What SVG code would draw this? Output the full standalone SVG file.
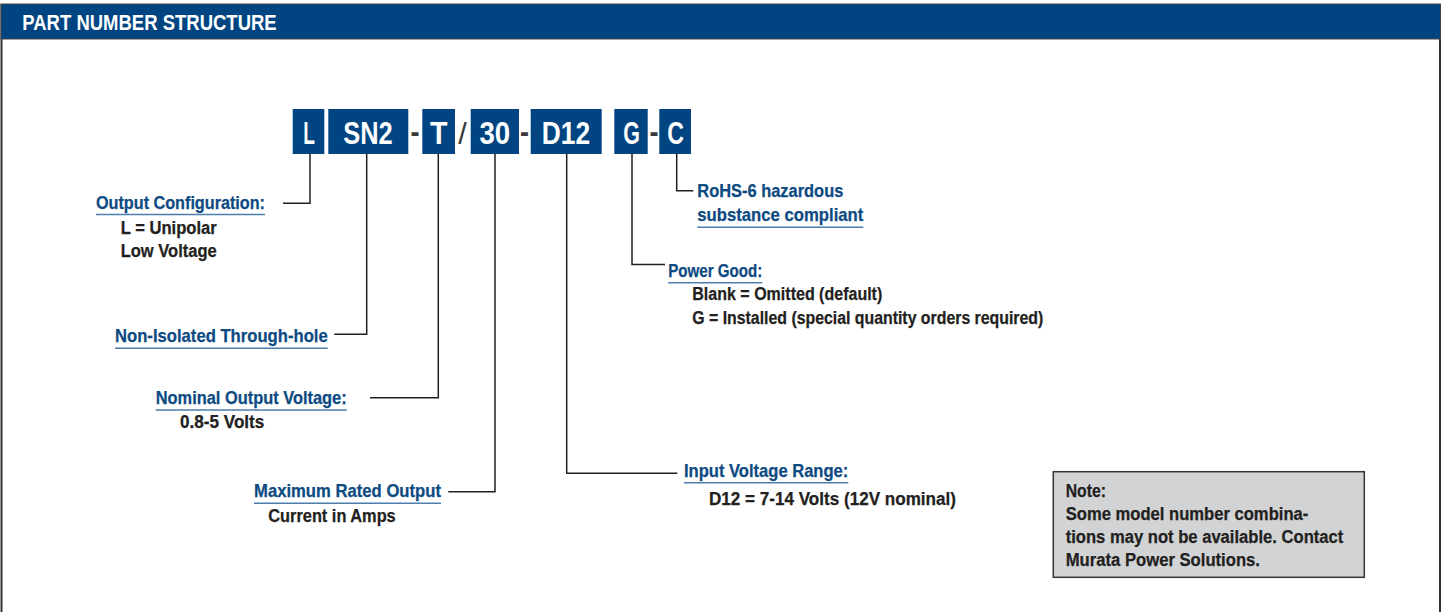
<svg xmlns="http://www.w3.org/2000/svg" width="1442" height="612" viewBox="0 0 1442 612">
<style>
text{font-family:'Liberation Sans Narrow','Liberation Sans',Arial,sans-serif;font-weight:bold}
.hd{fill:#ffffff;font-size:22.5px}
.bx{fill:#004581}
.bt{fill:#ffffff;font-size:32px;text-anchor:middle}
.sep{fill:#3a3a3a;font-size:32px;text-anchor:middle}
.sl{fill:#3a3a3a;font-size:30px;text-anchor:middle;font-weight:normal}
.lb{fill:#0d4a82;font-size:18.5px;stroke:#0d4a82;stroke-width:0.25}
.tx{fill:#231f20;font-size:18px;stroke:#231f20;stroke-width:0.25}
.ul{stroke:#4d7dad;stroke-width:1.5;fill:none}
.cn{stroke:#231f20;stroke-width:1.5;fill:none}
</style>
<rect x="0" y="0" width="1442" height="612" fill="#ffffff"/>
<g id="frame">
<line x1="1.5" y1="4" x2="1.5" y2="612" stroke="#333" stroke-width="2"/>
<line x1="1440" y1="4" x2="1440" y2="612" stroke="#333" stroke-width="2"/>
<rect x="1" y="4" width="1439.5" height="35" fill="#004581" stroke="#444" stroke-width="1"/>
<text class="hd" x="22.3" y="30" textLength="254.4" lengthAdjust="spacingAndGlyphs">PART NUMBER STRUCTURE</text>
</g>
<g id="code">
<g id="box-L"><rect class="bx" x="292.7" y="109" width="31.6" height="45"/><text class="bt" x="309.2" y="144" textLength="11.7" lengthAdjust="spacingAndGlyphs">L</text></g>
<g id="box-SN2"><rect class="bx" x="328.3" y="109" width="80" height="45"/><text class="bt" x="368" y="144" textLength="49.4" lengthAdjust="spacingAndGlyphs">SN2</text></g>
<text class="sep" x="415" y="142" textLength="9" lengthAdjust="spacingAndGlyphs">-</text>
<g id="box-T"><rect class="bx" x="422.3" y="109" width="32.7" height="45"/><text class="bt" x="438.7" y="144" textLength="17.5" lengthAdjust="spacingAndGlyphs">T</text></g>
<text class="sl" x="462.5" y="144" textLength="8.5" lengthAdjust="spacingAndGlyphs">/</text>
<g id="box-30"><rect class="bx" x="470.7" y="109" width="48.3" height="45"/><text class="bt" x="494.8" y="144" textLength="30.7" lengthAdjust="spacingAndGlyphs">30</text></g>
<text class="sep" x="524.5" y="142" textLength="9" lengthAdjust="spacingAndGlyphs">-</text>
<g id="box-D12"><rect class="bx" x="530.7" y="109" width="71" height="45"/><text class="bt" x="566" y="144" textLength="48.3" lengthAdjust="spacingAndGlyphs">D12</text></g>
<g id="box-G"><rect class="bx" x="614.3" y="109" width="33.4" height="45"/><text class="bt" x="631.5" y="144" textLength="16.7" lengthAdjust="spacingAndGlyphs">G</text></g>
<text class="sep" x="654" y="142" textLength="9" lengthAdjust="spacingAndGlyphs">-</text>
<g id="box-C"><rect class="bx" x="659.3" y="109" width="31.7" height="45"/><text class="bt" x="675.6" y="144" textLength="16.7" lengthAdjust="spacingAndGlyphs">C</text></g>
</g>
<g id="connectors">
<path class="cn" d="M310 154 V203.3 H283"/>
<path class="cn" d="M366.7 154 V334.3 H334.3"/>
<path class="cn" d="M438.3 154 V397.7 H370"/>
<path class="cn" d="M495 154 V491.7 H448.3"/>
<path class="cn" d="M566.7 154 V473.3 H677.3"/>
<path class="cn" d="M632 154 V264.5 H665"/>
<path class="cn" d="M676.7 154 V190.7 H693.3"/>
</g>
<g id="output-config">
<text class="lb" x="96" y="209.3" textLength="169" lengthAdjust="spacingAndGlyphs">Output Configuration:</text>
<line class="ul" x1="96" y1="214.5" x2="265" y2="214.5"/>
<text class="tx" x="120.7" y="234" textLength="96" lengthAdjust="spacingAndGlyphs">L = Unipolar</text>
<text class="tx" x="120.7" y="257.3" textLength="96" lengthAdjust="spacingAndGlyphs">Low Voltage</text>
</g>
<g id="non-isolated">
<text class="lb" x="115" y="341.7" textLength="212.7" lengthAdjust="spacingAndGlyphs">Non-Isolated Through-hole</text>
<line class="ul" x1="115" y1="348.3" x2="327.7" y2="348.3"/>
</g>
<g id="nominal-voltage">
<text class="lb" x="155.7" y="404" textLength="191" lengthAdjust="spacingAndGlyphs">Nominal Output Voltage:</text>
<line class="ul" x1="155.7" y1="410" x2="346.7" y2="410"/>
<text class="tx" x="180" y="428.3" textLength="84.3" lengthAdjust="spacingAndGlyphs">0.8-5 Volts</text>
</g>
<g id="max-output">
<text class="lb" x="254" y="497.3" textLength="187" lengthAdjust="spacingAndGlyphs">Maximum Rated Output</text>
<line class="ul" x1="254" y1="503.3" x2="441" y2="503.3"/>
<text class="tx" x="268.3" y="521.7" textLength="127.4" lengthAdjust="spacingAndGlyphs">Current in Amps</text>
</g>
<g id="rohs">
<text class="lb" x="697.3" y="196.7" textLength="146" lengthAdjust="spacingAndGlyphs">RoHS-6 hazardous</text>
<text class="lb" x="697.3" y="221" textLength="166" lengthAdjust="spacingAndGlyphs">substance compliant</text>
<line class="ul" x1="697.3" y1="227.3" x2="863.3" y2="227.3"/>
</g>
<g id="power-good">
<text class="lb" x="668.3" y="276.7" textLength="94" lengthAdjust="spacingAndGlyphs">Power Good:</text>
<line class="ul" x1="668.3" y1="282.7" x2="762.3" y2="282.7"/>
<text class="tx" x="692.3" y="300" textLength="190" lengthAdjust="spacingAndGlyphs">Blank = Omitted (default)</text>
<text class="tx" x="692.3" y="324" textLength="351" lengthAdjust="spacingAndGlyphs">G = Installed (special quantity orders required)</text>
</g>
<g id="input-voltage">
<text class="lb" x="684" y="476.7" textLength="164.3" lengthAdjust="spacingAndGlyphs">Input Voltage Range:</text>
<line class="ul" x1="684" y1="482.7" x2="848.3" y2="482.7"/>
<text class="tx" x="709" y="505" textLength="247" lengthAdjust="spacingAndGlyphs">D12 = 7-14 Volts (12V nominal)</text>
</g>
<g id="note">
<rect x="1053.3" y="471.7" width="311" height="105.6" fill="#d1d3d4" stroke="#333" stroke-width="1.5"/>
<text class="tx" x="1065.7" y="496.7" textLength="40.3" lengthAdjust="spacingAndGlyphs">Note:</text>
<text class="tx" x="1065.7" y="520.3" textLength="242.6" lengthAdjust="spacingAndGlyphs">Some model number combina-</text>
<text class="tx" x="1065.7" y="543.3" textLength="277.6" lengthAdjust="spacingAndGlyphs">tions may not be available. Contact</text>
<text class="tx" x="1065.7" y="566" textLength="194.3" lengthAdjust="spacingAndGlyphs">Murata Power Solutions.</text>
</g>
</svg>
